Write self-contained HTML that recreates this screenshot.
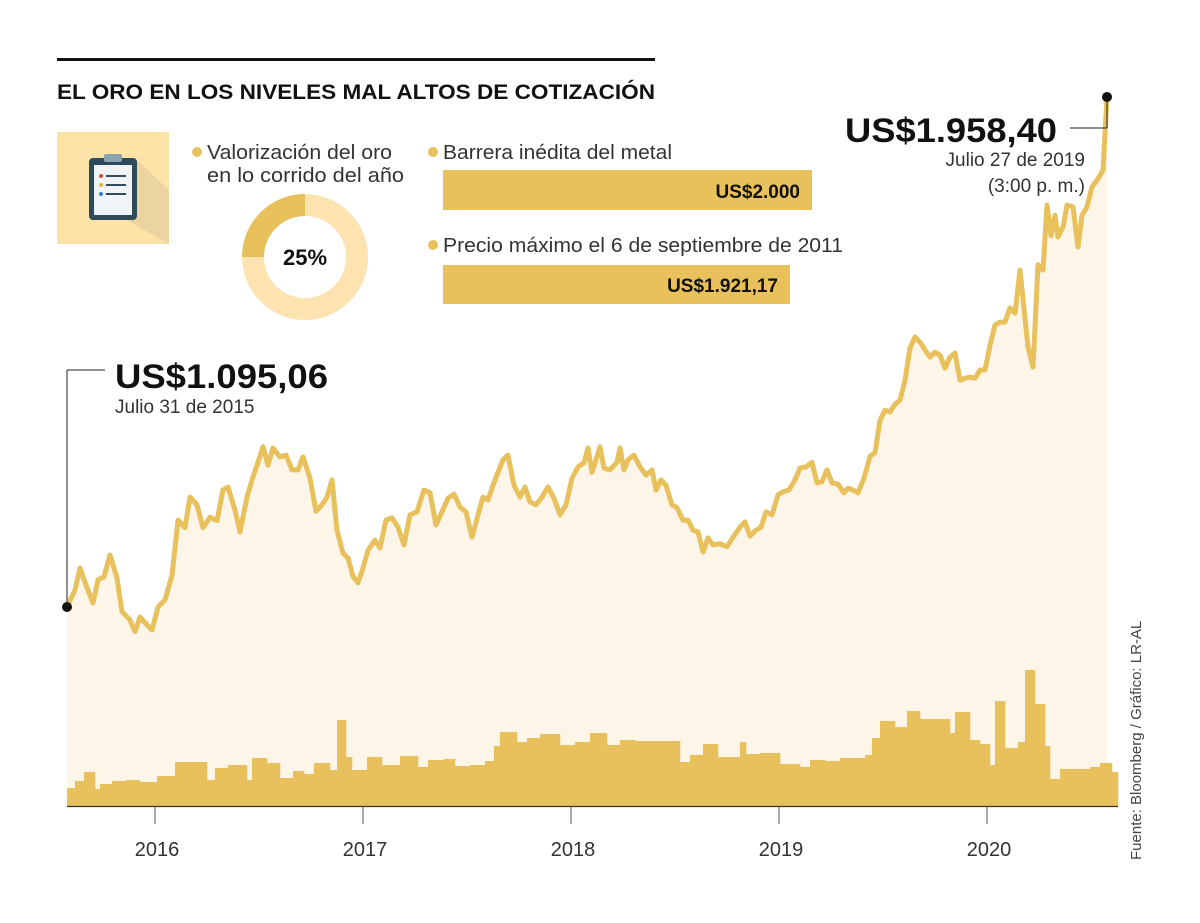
<!DOCTYPE html>
<html><head><meta charset="utf-8"><style>
body{margin:0;background:#fff;}
svg{display:block;font-family:"Liberation Sans Narrow","Liberation Sans",sans-serif;}
</style></head><body>
<svg id="chart" width="1200" height="923" viewBox="0 0 1200 923">
<rect x="57" y="58" width="598" height="3" fill="#111"/>
<text x="57" y="99" font-family="Liberation Sans" font-weight="bold" font-size="21" fill="#111" textLength="598" lengthAdjust="spacingAndGlyphs">EL ORO EN LOS NIVELES MAL ALTOS DE COTIZACIÓN</text>
<g>
<rect x="57" y="132" width="112" height="112" fill="#fde3a7"/>
<polygon points="127,220 169,244 169,190 137,160" fill="#e7d0a0" opacity="0.8"/>
<rect x="89" y="158" width="48" height="62" rx="4" fill="#2e4a5c"/>
<rect x="94" y="165" width="38" height="50" fill="#f1f4f6"/>
<rect x="104" y="154" width="18" height="8" rx="2" fill="#8aa3b3"/>
<circle cx="101" cy="176" r="2" fill="#e04a3a"/><rect x="106" y="175" width="20" height="2" fill="#2e4a5c"/>
<circle cx="101" cy="185" r="2" fill="#e8b33a"/><rect x="106" y="184" width="20" height="2" fill="#2e4a5c"/>
<circle cx="101" cy="194" r="2" fill="#3a7bd5"/><rect x="106" y="193" width="20" height="2" fill="#2e4a5c"/>
</g>
<g font-size="20" fill="#333">
<circle cx="197" cy="152" r="5" fill="#e8c15c"/>
<text x="207" y="159" textLength="185" lengthAdjust="spacingAndGlyphs">Valorización del oro</text>
<text x="207" y="182" textLength="197" lengthAdjust="spacingAndGlyphs">en lo corrido del año</text>
<circle cx="433" cy="152" r="5" fill="#e8c15c"/>
<text x="443" y="159" textLength="229" lengthAdjust="spacingAndGlyphs">Barrera inédita del metal</text>
<circle cx="433" cy="245" r="5" fill="#e8c15c"/>
<text x="443" y="252" textLength="400" lengthAdjust="spacingAndGlyphs">Precio máximo el 6 de septiembre de 2011</text>
</g>
<g>
<circle cx="305" cy="257" r="52" fill="none" stroke="#fde3b0" stroke-width="22"/>
<path d="M253,257 A52,52 0 0 1 305,205" fill="none" stroke="#e8c15c" stroke-width="22"/>
<text x="305" y="265" text-anchor="middle" font-family="Liberation Sans" font-weight="bold" font-size="22" fill="#111">25%</text>
</g>
<rect x="443" y="170" width="369" height="40" fill="#e8c15c"/>
<text x="800" y="198" text-anchor="end" font-family="Liberation Sans" font-weight="bold" font-size="19" fill="#111">US$2.000</text>
<rect x="443" y="265" width="347" height="39" fill="#e8c15c"/>
<text x="778" y="292" text-anchor="end" font-family="Liberation Sans" font-weight="bold" font-size="19" fill="#111">US$1.921,17</text>
<g id="plot"></g>
<line x1="67" y1="607" x2="67" y2="370" stroke="#222" stroke-width="1"/>
<line x1="67" y1="370" x2="105" y2="370" stroke="#222" stroke-width="1"/>
<text x="115" y="388" font-family="Liberation Sans" font-weight="bold" font-size="34" fill="#111" textLength="213" lengthAdjust="spacingAndGlyphs">US$1.095,06</text>
<text x="115" y="413" font-size="19" fill="#333">Julio 31 de 2015</text>
<line x1="1070" y1="128" x2="1107" y2="128" stroke="#222" stroke-width="1"/>
<line x1="1107" y1="128" x2="1107" y2="97" stroke="#222" stroke-width="1"/>
<text x="845" y="142" font-family="Liberation Sans" font-weight="bold" font-size="34" fill="#111" textLength="212" lengthAdjust="spacingAndGlyphs">US$1.958,40</text>
<text x="1085" y="166" text-anchor="end" font-size="19" fill="#333">Julio 27 de 2019</text>
<text x="1085" y="192" text-anchor="end" font-size="19" fill="#333">(3:00 p. m.)</text>
<text transform="translate(1141,860) rotate(-90)" font-size="15" fill="#444">Fuente: Bloomberg / Gráfico: LR-AL</text>
</svg>
<script>
const priceWeeks=[0,2,3.25,4.75,6.5,7.75,9.25,10.75,12.5,13.75,15.75,17,18.25,20.25,21.25,22.75,24.5,26.25,27.75,29.5,30.75,32.5,34,35.75,37.5,39,40.25,42,43.25,45,46.25,47.75,49,50.25,51.5,53.25,54.75,56.25,57.75,59,60.75,62.25,63.75,65,66.25,67.5,69,70.25,71.5,72.75,74,75.25,77,78.25,79.75,81.25,82.75,84.25,85.75,87.5,89.25,90.75,92.25,93.75,95.25,96.75,98.25,99.75,101.25,102.75,104,105.25,106.5,107.75,109,110.25,111.75,113.25,114.5,115.75,117.25,118.75,120.25,121.75,123.25,124.75,126.25,127.75,129.25,130.25,131.25,132.25,133.25,134.25,135.75,137.5,138.25,139.25,140.25,141.75,143.25,144.75,146.25,147.25,148.5,149.75,151.25,152.5,154,155.25,156.5,157.75,159,160.25,161.5,163.25,165,166.5,168.25,169.5,170.75,172.25,173.5,174.75,176.25,177.75,179,180.5,182,183.25,184.75,186.25,187.5,188.75,190,191.25,192.75,194.25,195.25,196.5,197.75,199.25,200.75,202,203.25,204.5,205.75,207,208.25,209.5,210.75,212,213.25,214.5,215.75,217,218.25,219.5,220.75,222,223.25,224.5,225.75,227,228.25,229.5,230.75,232,233.25,234.5,235.75,237,238.25,239.5,240.25,241.5,242.75,244,245,246,247,247.75,249,250,251.5,252.75,253.75,255,256.25,257.5,259,260];
const prices=[1095,1124,1161,1132,1102,1141,1146,1183,1144,1087,1073,1053,1078,1063,1056,1095,1107,1149,1242,1229,1281,1268,1229,1247,1241,1293,1298,1259,1222,1281,1310,1340,1366,1335,1364,1349,1352,1327,1327,1349,1313,1257,1268,1281,1310,1225,1186,1178,1147,1136,1161,1191,1208,1195,1242,1246,1230,1200,1251,1256,1293,1288,1234,1256,1279,1286,1264,1256,1213,1251,1281,1276,1301,1323,1344,1352,1301,1281,1298,1273,1268,1281,1298,1279,1251,1268,1313,1332,1339,1364,1323,1344,1366,1330,1327,1340,1364,1327,1344,1352,1332,1318,1327,1293,1310,1301,1268,1263,1242,1242,1225,1222,1188,1212,1200,1202,1197,1213,1230,1239,1215,1225,1230,1256,1251,1285,1290,1293,1310,1330,1332,1340,1305,1307,1327,1305,1303,1288,1296,1293,1288,1313,1350,1356,1411,1428,1425,1438,1445,1479,1533,1552,1543,1530,1518,1526,1521,1499,1518,1525,1479,1482,1484,1482,1496,1496,1538,1572,1577,1577,1601,1592,1665,1584,1535,1501,1674,1665,1775,1723,1758,1721,1738,1775,1772,1704,1758,1772,1806,1817,1834,1958];
const volWeeks=[0,2,4.25,7,8.25,11.25,14.75,18.25,22.5,27,30.75,35,37,40.25,45,46.25,50,53.25,56.5,59.25,61.75,65.75,67.5,69.75,71.25,75,78.75,83.25,87.75,90.25,94.25,97,100.75,104.5,106.75,108.25,112.5,115,118.25,123.25,127,130.75,135,138.25,142,145.25,153.25,155.75,159,162.75,168.25,169.75,173.25,178.25,183.25,185.75,189.5,193.25,199.5,201.25,203.25,207,210,213.25,217,220.75,222,225.75,228.25,230.75,232,234.5,237.75,239.5,242,244.5,245.75,248.25,255.75,258.25,261.25];
const volumes=[18,25,34,17,22,25,26,24,30,44,44,26,38,41,26,48,43,28,35,32,43,36,86,49,36,49,41,50,39,46,47,40,41,45,60,74,64,68,72,61,64,73,61,66,65,65,44,51,62,49,64,52,53,42,39,46,45,48,51,68,85,79,95,87,87,73,94,66,62,41,105,58,64,136,102,60,27,37,39,43,34];
const volEndWeek=262.75;
const yearLabels=["2016","2017","2018","2019","2020"];
const yearTickWeeks=[22,74,126,178,230];

const NS="http://www.w3.org/2000/svg";
const plot=document.getElementById('plot');
const xS=w=>67+w*4;
const yP=p=>607-(p-1095)*0.591;
const yV=v=>806-v;
function mk(t,a){const e=document.createElementNS(NS,t);for(const k in a)e.setAttribute(k,a[k]);plot.appendChild(e);return e;}

let pts=priceWeeks.map((w,i)=>xS(w).toFixed(1)+','+yP(prices[i]).toFixed(1));
const area=mk('polygon',{points:xS(0)+',806 '+pts.join(' ')+' '+xS(priceWeeks[priceWeeks.length-1])+',806',fill:'#fdf5e8'});



volWeeks.forEach((w,i)=>{
  const end=i<volWeeks.length-1?volWeeks[i+1]:volEndWeek;
  const r=mk('rect',{x:xS(w),y:yV(volumes[i]),width:xS(end)-xS(w)+0.3,height:volumes[i],fill:'#e8c15c'});
  
  
});

const axis=mk('line',{x1:67,y1:806.5,x2:1118,y2:806.5,stroke:'#333','stroke-width':1.2});


yearTickWeeks.forEach((w,i)=>{
  const t=mk('line',{x1:xS(w),y1:806,x2:xS(w),y2:824,stroke:'#555','stroke-width':1});
  
  
  const l=mk('text',{x:xS(w)+2,y:856,'text-anchor':'middle','font-size':20,fill:'#333'});
  l.textContent=yearLabels[i];
  
  
});

const line=mk('polyline',{points:pts.join(' '),fill:'none',stroke:'#e8c15c','stroke-width':5,'stroke-linejoin':'round','stroke-linecap':'round'});


const d1=mk('circle',{cx:xS(priceWeeks[0]),cy:yP(prices[0]),r:5,fill:'#111'});


const n=priceWeeks.length-1;
const d2=mk('circle',{cx:xS(priceWeeks[n]),cy:yP(prices[n]),r:5,fill:'#111'});


</script>
</body></html>
